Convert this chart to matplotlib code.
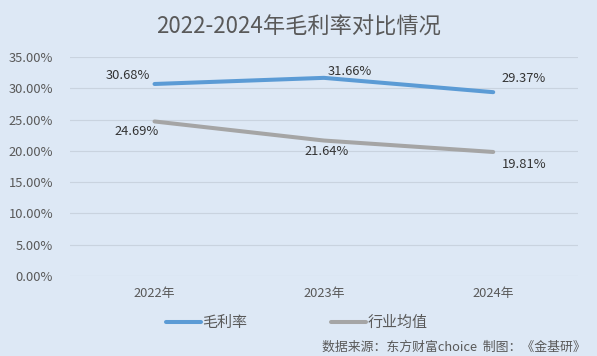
import numpy as np
import matplotlib.pyplot as plt
from matplotlib.ticker import FuncFormatter

plt.rcParams['font.family'] = ['Noto Sans CJK SC', 'DejaVu Sans']

# data
years = ['2022年', '2023年', '2024年']
gross_margin = [30.68, 31.66, 29.37]
industry_avg = [24.69, 21.64, 19.81]

bg = '#dde8f5'
txt = '#595959'

fig = plt.figure(figsize=(5.97, 3.56), dpi=100, facecolor=bg)
ax = fig.add_axes([0.117, 0.225, 0.851, 0.615], facecolor=bg)

x = np.arange(len(years))
ax.plot(x, gross_margin, color='#5b9bd5', lw=2.9, solid_capstyle='round', label='毛利率')
ax.plot(x, industry_avg, color='#a5a5a5', lw=2.9, solid_capstyle='round', label='行业均值')

# data labels (offsets in points)
offs_top = [(-19, 6), (19, 4.5), (22, 10)]
for i, v in enumerate(gross_margin):
    ax.annotate('%.2f%%' % v, (x[i], v), xytext=offs_top[i], textcoords='offset points',
                ha='center', va='center', fontsize=9.3, color='#333333')
offs_bot = [(-13, -7.5), (2, -8), (22, -9)]
for i, v in enumerate(industry_avg):
    ax.annotate('%.2f%%' % v, (x[i], v), xytext=offs_bot[i], textcoords='offset points',
                ha='center', va='center', fontsize=9.3, color='#333333')

ax.set_xlim(-0.5, 2.5)
ax.set_ylim(0, 35)
ax.set_yticks(np.arange(0, 36, 5))
ax.yaxis.set_major_formatter(FuncFormatter(lambda v, p: '%.2f%%' % v))
ax.set_xticks(x)
ax.set_xticklabels(years)
ax.tick_params(length=0, labelsize=9.3, colors=txt, pad=8)
ax.tick_params(axis='y', pad=12)
ax.grid(axis='y', color='#c9d3df', lw=0.8)
ax.set_axisbelow(True)
for s in ax.spines.values():
    s.set_visible(False)

fig.text(0.5, 0.924, '2022-2024年毛利率对比情况', ha='center', va='center',
         fontsize=16, color=txt)

fig.legend(loc='center', bbox_to_anchor=(0.497, 0.093), ncol=2, frameon=False,
           fontsize=10.8, labelcolor=txt, handlelength=2.3, handletextpad=0.1,
           columnspacing=5.6)

fig.text(0.54, 0.025, '数据来源：东方财富choice  制图：《金基研》', ha='left', va='center',
         fontsize=9.3, color=txt)

fig.savefig('out.png', dpi=100, facecolor=bg)
